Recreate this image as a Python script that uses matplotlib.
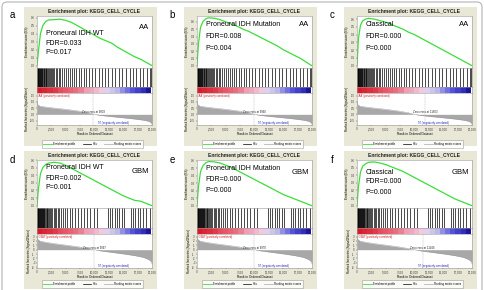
import numpy as np
import matplotlib
matplotlib.use("Agg")
import matplotlib.pyplot as plt
from matplotlib.patches import Rectangle, FancyBboxPatch
from matplotlib.colors import LinearSegmentedColormap
from matplotlib.lines import Line2D

plt.rcParams['font.family'] = ['Liberation Sans', 'DejaVu Sans']

# ---- data ----
letters = ['a', 'b', 'c', 'd', 'e', 'f']
groups = ['AA', 'AA', 'AA', 'GBM', 'GBM', 'GBM']
subtypes = ['Proneural IDH WT', 'Proneural IDH Mutation', 'Classical',
            'Proneural IDH WT', 'Proneural IDH Mutation', 'Classical']
fdr = ['0.033', '0.008', '0.000', '0.002', '0.000', '0.000']
pval = ['0.017', '0.004', '0.000', '0.001', '0.000', '0.000']
zero_cross = [9803, 9960, 11803, 9997, 9970, 11406]

es_rank = [0, 250, 600, 1000, 1500, 2000, 3000, 4000, 5000, 6000, 7000, 8000,
           9000, 10000, 11000, 12000, 13000, 14000, 15000, 16000, 17000, 18000,
           19000, 20000]
es_a = [0.00, 0.18, 0.40, 0.50, 0.55, 0.57, 0.575, 0.58, 0.565, 0.54, 0.50, 0.46,
        0.42, 0.38, 0.34, 0.31, 0.28, 0.23, 0.19, 0.15, 0.11, 0.08, 0.04, 0.0]
es_b = [0.00, 0.30, 0.52, 0.60, 0.64, 0.655, 0.65, 0.63, 0.60, 0.57, 0.54, 0.50,
        0.47, 0.43, 0.39, 0.35, 0.31, 0.27, 0.22, 0.18, 0.14, 0.10, 0.05, 0.0]
es_c = [0.00, 0.35, 0.52, 0.58, 0.60, 0.61, 0.60, 0.58, 0.56, 0.53, 0.50, 0.47,
        0.43, 0.40, 0.36, 0.32, 0.28, 0.24, 0.20, 0.16, 0.12, 0.08, 0.04, 0.0]
es_d = [0.00, 0.22, 0.42, 0.50, 0.54, 0.56, 0.57, 0.56, 0.53, 0.49, 0.45, 0.41,
        0.37, 0.33, 0.29, 0.25, 0.21, 0.17, 0.13, 0.10, 0.07, 0.06, 0.03, 0.0]
es_e = [0.00, 0.25, 0.45, 0.53, 0.57, 0.59, 0.585, 0.57, 0.54, 0.51, 0.47, 0.43,
        0.39, 0.35, 0.31, 0.27, 0.23, 0.19, 0.15, 0.12, 0.09, 0.06, 0.03, 0.0]
es_f = [0.00, 0.25, 0.44, 0.52, 0.55, 0.57, 0.575, 0.56, 0.54, 0.51, 0.48, 0.45,
        0.41, 0.37, 0.33, 0.29, 0.25, 0.21, 0.17, 0.13, 0.09, 0.06, 0.03, 0.0]
es_curves = [es_a, es_b, es_c, es_d, es_e, es_f]
es_top = [0.62, 0.68, 0.64, 0.60, 0.61, 0.60]

hits_aa = [40, 110, 180, 260, 330, 420, 500, 580, 680, 760, 850, 950, 1050, 1150,
           1260, 1380, 1500, 1640, 1780, 1920, 2080, 2250, 2420, 2600, 2800, 3000,
           3250, 3500, 3750, 4050, 4350, 4650, 5000, 5350, 5700, 6100, 6500, 6850,
           7300, 7700, 8100, 8600, 9100, 9600, 10100, 10700, 11300, 11900, 12400,
           13000, 13600, 14200, 14800, 15400, 16100, 16700, 17300, 17900, 18500,
           19100, 19600, 19900]
hits_gbm = [30, 90, 160, 230, 300, 370, 450, 530, 610, 700, 790, 880, 980, 1080,
            1190, 1300, 1420, 1550, 1680, 1820, 1970, 2130, 2300, 2480, 2670, 2870,
            3100, 3350, 3600, 3900, 4200, 4550, 4900, 5300, 5700, 6100, 6600, 7100,
            7600, 8100, 8700, 9300, 9900, 10400, 12300, 12700, 13100, 13500, 13900,
            14300, 14800, 15200, 16300, 16700, 17100, 17500, 17900, 18400, 18900,
            19700]

metric_rank = [0, 100, 500, 1500, 3000, 5000, 7000, 9000, 10000, 11000, 13000,
               15000, 17000, 18500, 19500, 19900, 20000]
metric_aa = [1.05, 0.78, 0.66, 0.58, 0.5, 0.4, 0.28, 0.12, 0.0, -0.08, -0.18,
             -0.27, -0.37, -0.46, -0.56, -0.7, -0.8]
metric_gbm = [3.2, 2.4, 2.0, 1.7, 1.4, 1.05, 0.7, 0.25, 0.0, -0.25, -0.6,
              -0.95, -1.35, -1.75, -2.3, -2.8, -3.3]

band_levels = [1.0, 0.95, 0.9, 0.85, 0.75, 0.7, 0.65, 0.6, 0.5, 0.35, 0.3, 0.2,
               0.1, -0.1, -0.2, -0.3, -0.45, -0.55, -0.65, -0.75, -0.85, -1.0]

rank_ticks = [0, 2500, 5000, 7500, 10000, 12500, 15000, 17500, 20000]
rank_labels = ['0', '2,500', '5,000', '7,500', '10,000', '12,500', '15,000',
               '17,500', '20,000']

# ---- layout (pixels) ----
W, H = 484, 290
green = '#3ade3a'
beige = '#e9e7d6'
rows = [dict(bg=(7, 146), es=(16, 68), hits=(68, 87), cb=(87, 93), rk=(93, 125),
             title=12, leg=139, lab=15),
        dict(bg=(151, 289), es=(160, 208), hits=(208, 228), cb=(228, 234), rk=(234, 268),
             title=155.5, leg=279, lab=160)]
text_y = [(0.67, 0.48, 0.29, 0.77), (0.83, 0.6, 0.38, 0.83), (0.83, 0.6, 0.37, 0.83),
          (0.84, 0.62, 0.42, 0.77), (0.83, 0.6, 0.37, 0.75), (0.75, 0.55, 0.33, 0.75)]

cmap = LinearSegmentedColormap.from_list(
    'gsea', ['#1b169a', '#4f4fdc', '#b4b4ec', '#f2dcf0', '#f0a2b8', '#e8606e', '#d81c2c'])


def rect(x0, y0, x1, y1):
    return [x0 / W, 1 - y1 / H, (x1 - x0) / W, (y1 - y0) / H]


def style(ax):
    for s in ax.spines.values():
        s.set_color('#9a9a9a')
        s.set_linewidth(0.4)
    ax.tick_params(length=1, width=0.3, labelsize=2, pad=0.6, colors='#333333')


fig = plt.figure(figsize=(W / 100, H / 100), dpi=100)
fig.patch.set_facecolor('white')

fig.patches.append(FancyBboxPatch((0.02, -0.06), 4.80, 2.94,
                                  boxstyle='round,pad=0,rounding_size=0.05',
                                  transform=fig.dpi_scale_trans, fill=False,
                                  ec='#b5b5b5', lw=0.8, zorder=-2))

for i in range(6):
    col, r = i % 3, i // 3
    g = rows[r]
    dx = 160 * col
    x0, x1 = 37 + dx, 152 + dx
    is_aa = groups[i] == 'AA'

    fig.patches.append(Rectangle(((24 + dx) / W, 1 - g['bg'][1] / H), 133 / W,
                                 (g['bg'][1] - g['bg'][0]) / H,
                                 transform=fig.transFigure, fc=beige, ec='none', zorder=-1))

    fig.text((12 + dx) / W, 1 - g['lab'] / H, letters[i], fontsize=7, ha='center', va='center')
    fig.text((x0 + x1) / 2 / W, 1 - g['title'] / H, 'Enrichment plot: KEGG_CELL_CYCLE',
             fontsize=3.6, fontweight='bold', ha='center', va='center', color='#222222')

    # enrichment score
    ax = fig.add_axes(rect(x0, g['es'][0], x1, g['es'][1]))
    ax.plot(es_rank, es_curves[i], color=green, lw=0.9)
    ax.set_xlim(0, 20000)
    ax.set_ylim(-0.03, es_top[i])
    ax.set_yticks(np.arange(0, 0.61, 0.1))
    ax.set_yticklabels(['%.1f' % v for v in np.arange(0, 0.61, 0.1)])
    ax.set_xticks([])
    ax.set_ylabel('Enrichment score (ES)', fontsize=2.2, labelpad=1)
    style(ax)
    ty = text_y[i]
    ax.text(0.075, ty[0], subtypes[i], transform=ax.transAxes, fontsize=5, va='center')
    ax.text(0.075, ty[1], 'FDR=' + fdr[i], transform=ax.transAxes, fontsize=5, va='center')
    ax.text(0.075, ty[2], 'P=' + pval[i], transform=ax.transAxes, fontsize=5, va='center')
    ax.text(0.975, ty[3], groups[i], transform=ax.transAxes, fontsize=5.5,
            ha='right', va='center')

    # hits
    axh = fig.add_axes(rect(x0, g['hits'][0], x1, g['hits'][1]))
    for h in (hits_aa if is_aa else hits_gbm):
        axh.axvline(h, color='black', lw=0.5)
    axh.set_xlim(0, 20000)
    axh.set_xticks([])
    axh.set_yticks([])
    style(axh)

    # colour bar
    axc = fig.add_axes(rect(x0, g['cb'][0], x1, g['cb'][1]))
    axc.imshow(np.array([band_levels]), cmap=cmap, vmin=-1, vmax=1, aspect='auto',
               extent=(0, 19700, 0, 1), interpolation='nearest')
    axc.set_xlim(0, 20000)
    axc.set_ylim(0, 1)
    axc.set_xticks([])
    axc.set_yticks([])
    style(axc)

    # ranked list metric
    axr = fig.add_axes(rect(x0, g['rk'][0], x1, g['rk'][1]))
    metric = metric_aa if is_aa else metric_gbm
    axr.fill_between(metric_rank, metric, 0, color='#a8a8a8', lw=0)
    axr.plot(metric_rank, metric, color='#999999', lw=0.3)
    axr.axvline(zero_cross[i], color='#aaaaaa', lw=0.3, ls='--')
    axr.set_xlim(0, 20000)
    if is_aa:
        axr.set_ylim(-0.85, 1.7)
        yt = [1.5, 1.0, 0.5, 0.0, -0.5]
        axr.set_yticks(yt)
        axr.set_yticklabels(['%.1f' % v for v in yt])
    else:
        axr.set_ylim(-4.2, 3.6)
        yt = [3, 2, 1, 0, -1, -2, -3, -4]
        axr.set_yticks(yt)
        axr.set_yticklabels([str(v) for v in yt])
    axr.set_xticks(rank_ticks)
    axr.set_xticklabels(rank_labels)
    axr.set_xlabel('Rank in Ordered Dataset', fontsize=2.3, labelpad=0.8)
    axr.set_ylabel('Ranked list metric (Signal2Noise)', fontsize=2.1, labelpad=1)
    style(axr)
    axr.text(0.01, 0.97, "'%s' (positively correlated)" % groups[i], transform=axr.transAxes,
             fontsize=2, color='#d01818', va='top')
    axr.text(0.53, 0.06, "'N' (negatively correlated)", transform=axr.transAxes,
             fontsize=2, color='#2020c0', va='center')
    axr.text(zero_cross[i], 0, 'Zero cross at %d' % zero_cross[i], fontsize=2,
             ha='center', va='bottom', color='#222222')

    handles = [Line2D([], [], color=green, lw=0.6), Line2D([], [], color='black', lw=0.5),
               Line2D([], [], color='#aaaaaa', lw=0.5)]
    leg = axr.legend(handles, ['Enrichment profile', 'Hits', 'Ranking metric scores'],
                     loc='upper center', ncol=3, fontsize=2,
                     bbox_to_anchor=((x0 + x1) / 2 / W - 2 / W, 1 - g['leg'] / H),
                     bbox_transform=fig.transFigure, frameon=True, fancybox=False,
                     edgecolor='#888888', handlelength=3, borderpad=0.6,
                     columnspacing=2.5, handletextpad=0.6)
    leg.get_frame().set_linewidth(0.4)

fig.savefig('out.png', dpi=100, facecolor='white')
